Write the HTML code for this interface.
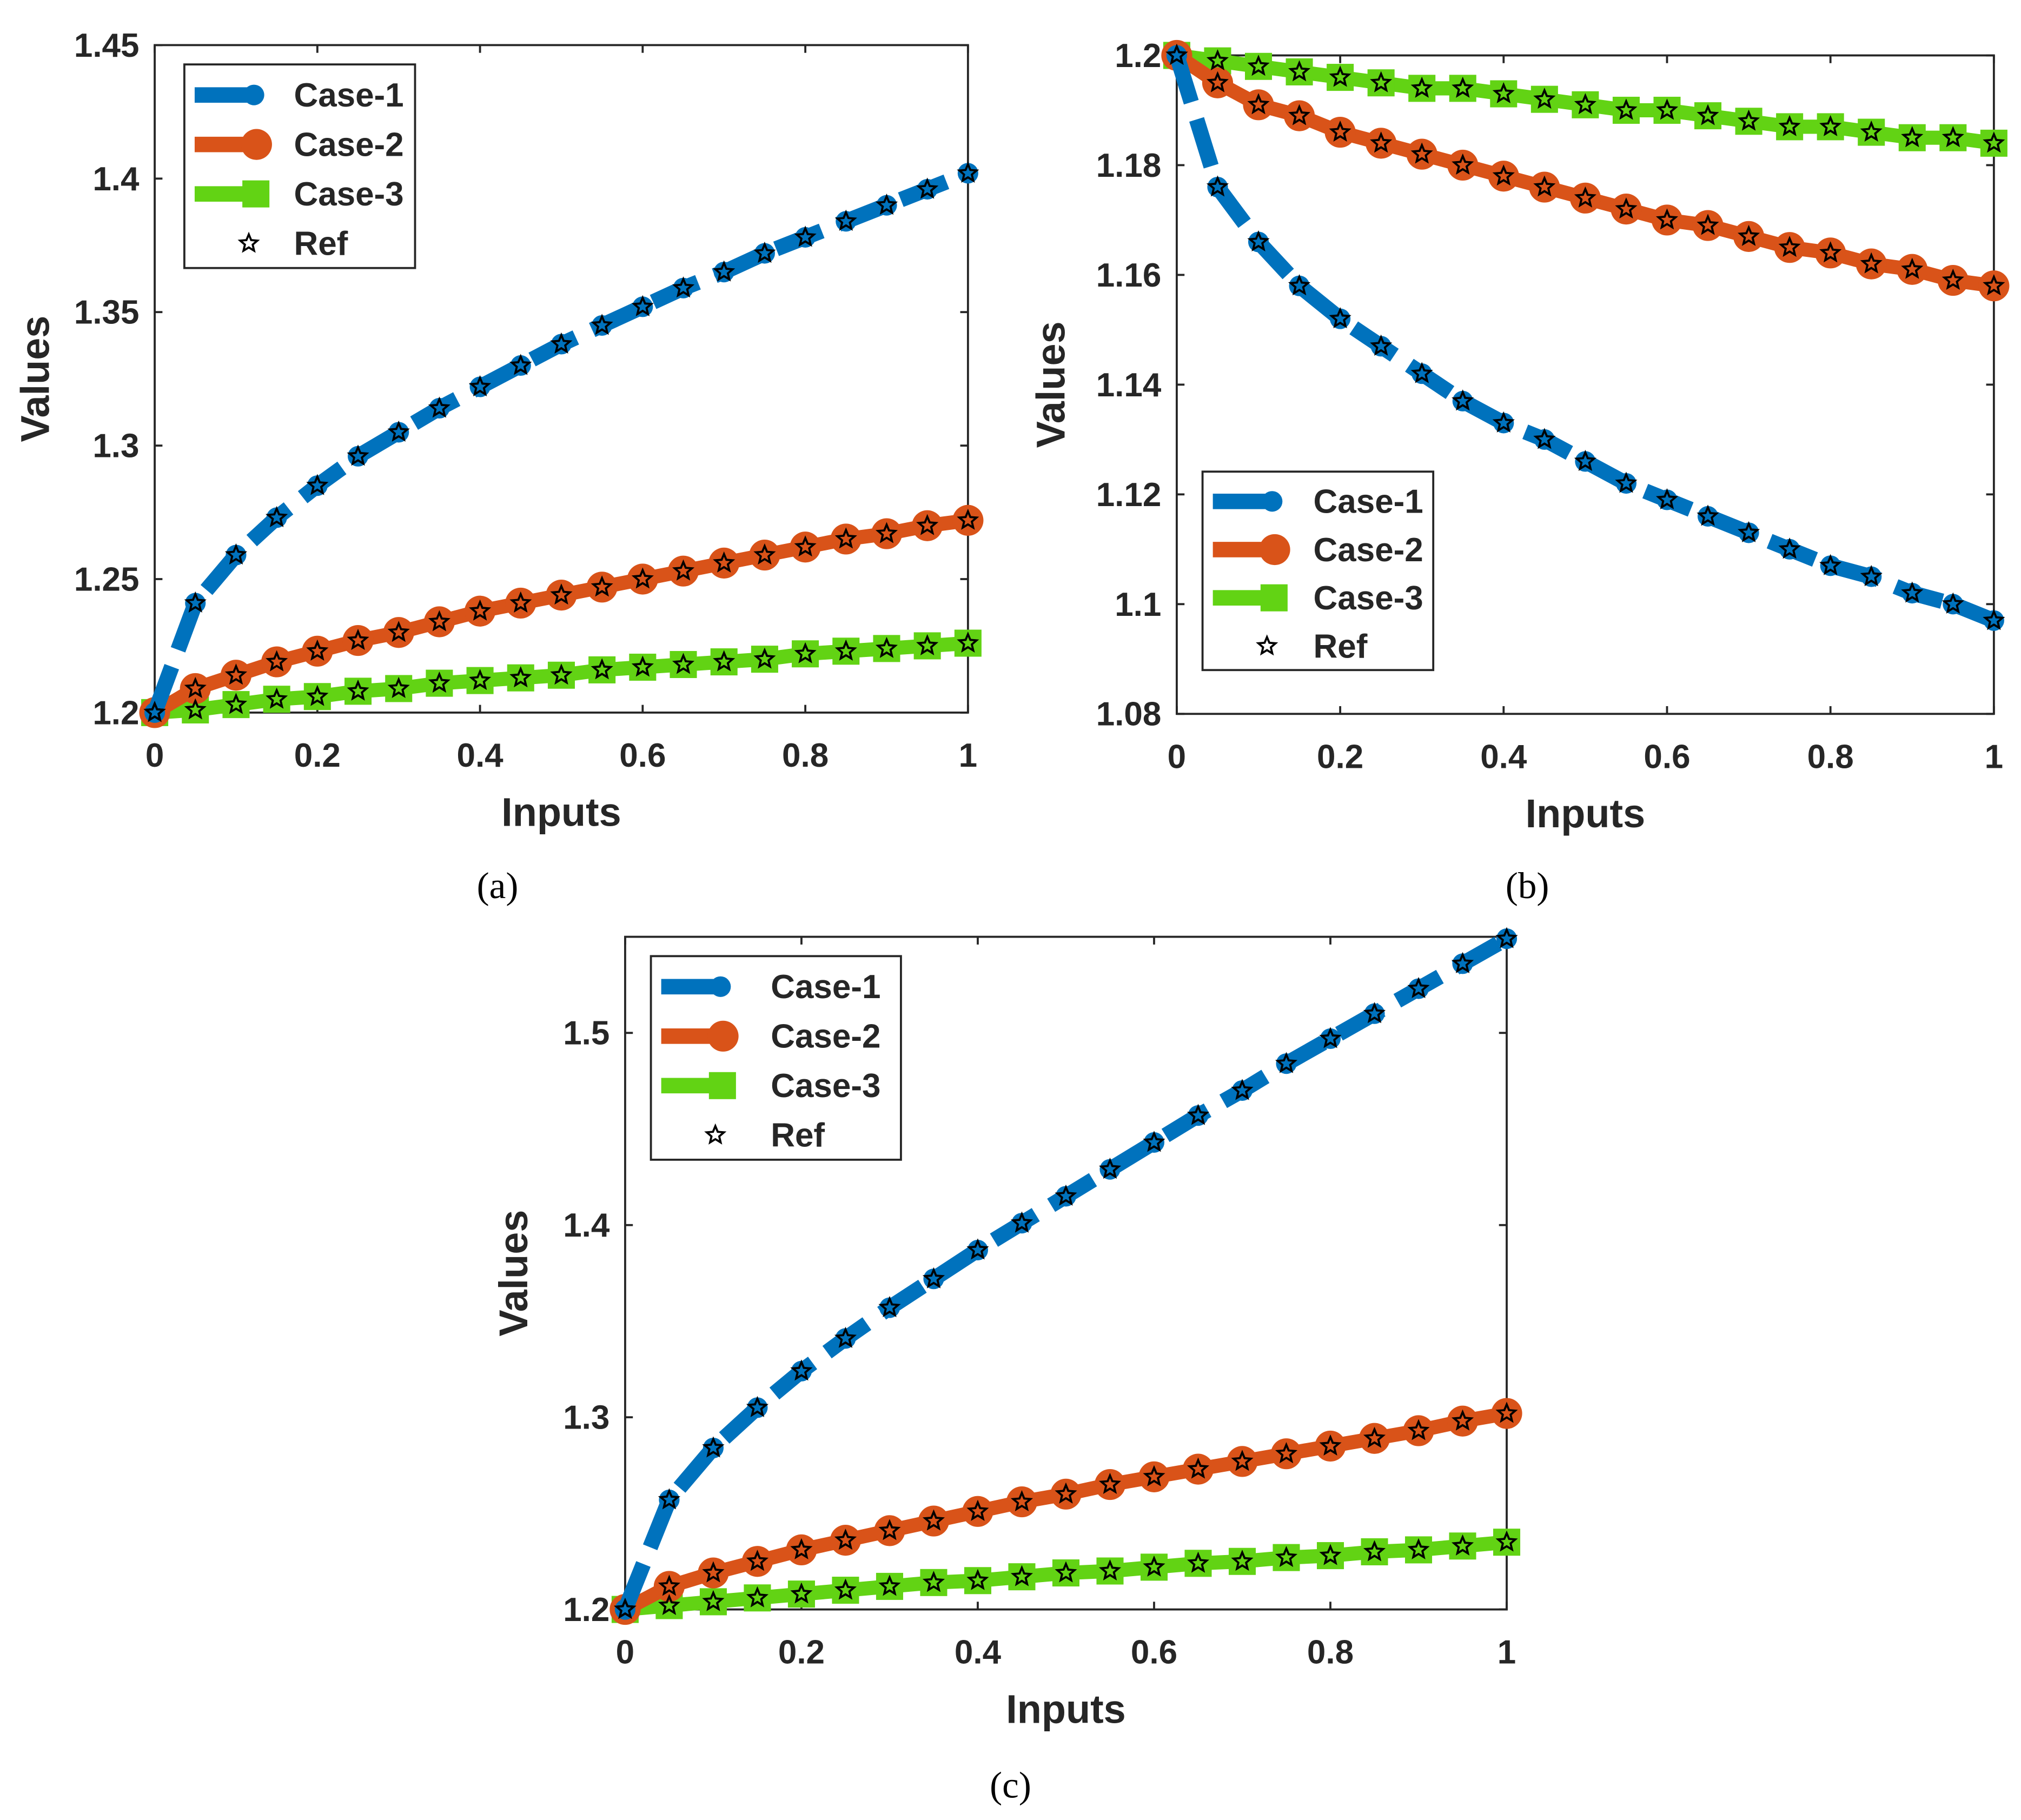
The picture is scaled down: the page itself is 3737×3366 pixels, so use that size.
<!DOCTYPE html>
<html><head><meta charset="utf-8"><style>
html,body{margin:0;padding:0;background:#fff}
svg{display:block}
text{font-family:"Liberation Sans",sans-serif;font-weight:bold;fill:#262626}
.cap{font-family:"Liberation Serif",serif;font-weight:normal;fill:#000}
</style></head><body>
<svg id="fig" xmlns="http://www.w3.org/2000/svg" width="3737" height="3366" viewBox="0 0 1568 1412.4">
<rect width="1568" height="1412.4" fill="#fff"/>
<text class="cap" x="386" y="697" font-size="29" text-anchor="middle">(a)</text>
<text class="cap" x="1185" y="697" font-size="29" text-anchor="middle">(b)</text>
<text class="cap" x="784" y="1395" font-size="29" text-anchor="middle">(c)</text>
</svg>
<script>
const xs = [0,0.05,0.1,0.15,0.2,0.25,0.3,0.35,0.4,0.45,0.5,0.55,0.6,0.65,0.7,0.75,0.8,0.85,0.9,0.95,1];
const a1 = [1.2,1.241,1.259,1.273,1.285,1.296,1.305,1.314,1.322,1.330,1.338,1.345,1.352,1.359,1.365,1.372,1.378,1.384,1.390,1.396,1.402];
const a2 = [1.2,1.209,1.214,1.219,1.223,1.227,1.230,1.234,1.238,1.241,1.244,1.247,1.250,1.253,1.256,1.259,1.262,1.265,1.267,1.270,1.272];
const a3 = [1.2,1.201,1.203,1.205,1.206,1.208,1.209,1.211,1.212,1.213,1.214,1.216,1.217,1.218,1.219,1.220,1.222,1.223,1.224,1.225,1.226];
const b1 = [1.2,1.176,1.166,1.158,1.152,1.147,1.142,1.137,1.133,1.130,1.126,1.122,1.119,1.116,1.113,1.110,1.107,1.105,1.102,1.100,1.097];
const b2 = [1.2,1.195,1.191,1.189,1.186,1.184,1.182,1.180,1.178,1.176,1.174,1.172,1.170,1.169,1.167,1.165,1.164,1.162,1.161,1.159,1.158];
const b3 = [1.2,1.199,1.198,1.197,1.196,1.195,1.194,1.194,1.193,1.192,1.191,1.190,1.190,1.189,1.188,1.187,1.187,1.186,1.185,1.185,1.184];
const c1 = [1.2,1.257,1.284,1.305,1.324,1.341,1.357,1.372,1.387,1.401,1.415,1.429,1.443,1.457,1.470,1.484,1.497,1.510,1.523,1.536,1.549];
const c2 = [1.2,1.212,1.219,1.225,1.231,1.236,1.241,1.246,1.251,1.256,1.260,1.265,1.269,1.273,1.277,1.281,1.285,1.289,1.293,1.298,1.302];
const c3 = [1.2,1.202,1.204,1.206,1.208,1.210,1.212,1.214,1.215,1.217,1.219,1.220,1.222,1.224,1.225,1.227,1.228,1.230,1.231,1.233,1.235];
const xTicks = [0,0.2,0.4,0.6,0.8,1];
const xTickLabels = ["0","0.2","0.4","0.6","0.8","1"];
const aYTicks = [1.2,1.25,1.3,1.35,1.4,1.45];
const aYLabels = ["1.2","1.25","1.3","1.35","1.4","1.45"];
const bYTicks = [1.08,1.1,1.12,1.14,1.16,1.18,1.2];
const bYLabels = ["1.08","1.1","1.12","1.14","1.16","1.18","1.2"];
const cYTicks = [1.2,1.3,1.4,1.5];
const cYLabels = ["1.2","1.3","1.4","1.5"];
const legendLabels = ["Case-1","Case-2","Case-3","Ref"];

const NS="http://www.w3.org/2000/svg";
const svg=document.getElementById('fig');
function mk(tag,attrs,parent){const e=document.createElementNS(NS,tag);for(const k in attrs)e.setAttribute(k,attrs[k]);(parent||svg).appendChild(e);return e;}
const COL=['#0072BD','#D95319','#62D314'];
function starPath(cx,cy,r){let d='';for(let i=0;i<10;i++){const rr=i%2?r*0.45:r;const a=-Math.PI/2+i*Math.PI/5;d+=(i?'L':'M')+(cx+rr*Math.cos(a)).toFixed(2)+','+(cy+rr*Math.sin(a)).toFixed(2);}return d+'Z';}

function panel(p){
  const g=mk('g',{});
  
  
  const X=v=>p.x0+(v-0)*(p.x1-p.x0);
  const Y=v=>p.yb-(v-p.ymin)/(p.ymax-p.ymin)*(p.yb-p.yt);
  const frame=mk('rect',{x:p.x0,y:p.yt,width:p.x1-p.x0,height:p.yb-p.yt,fill:'none',stroke:'#262626','stroke-width':1.6},g);
  
  
  xTicks.forEach((t,i)=>{
    mk('line',{x1:X(t),x2:X(t),y1:p.yb,y2:p.yb-6,stroke:'#262626','stroke-width':1.6},g);
    mk('line',{x1:X(t),x2:X(t),y1:p.yt,y2:p.yt+6,stroke:'#262626','stroke-width':1.6},g);
    const tx=mk('text',{x:X(t),y:p.yb+42,'font-size':26,'text-anchor':'middle'},g);
    tx.textContent=xTickLabels[i];
    
    
  });
  p.yt_.forEach((t,i)=>{
    mk('line',{x1:p.x0,x2:p.x0+6,y1:Y(t),y2:Y(t),stroke:'#262626','stroke-width':1.6},g);
    mk('line',{x1:p.x1,x2:p.x1-6,y1:Y(t),y2:Y(t),stroke:'#262626','stroke-width':1.6},g);
    const tx=mk('text',{x:p.x0-12,y:Y(t)+9,'font-size':26,'text-anchor':'end'},g);
    tx.textContent=p.yl[i];
    
    
  });
  const xl=mk('text',{x:(p.x0+p.x1)/2,y:p.yb+88,'font-size':31,'text-anchor':'middle'},g);
  xl.textContent='Inputs';
  
  
  const yx=p.x0-p.ylOff, yy=(p.yt+p.yb)/2;
  const yl=mk('text',{x:yx,y:yy,'font-size':31,'text-anchor':'middle',transform:`rotate(-90 ${yx} ${yy})`},g);
  yl.textContent='Values';
  
  
  const pts=s=>s.map((v,i)=>X(xs[i]).toFixed(2)+','+Y(v).toFixed(2)).join(' ');
  const l3=mk('polyline',{points:pts(p.s[2]),fill:'none',stroke:COL[2],'stroke-width':11},g);
  
  
  p.s[2].forEach((v,i)=>{const m=mk('rect',{x:X(xs[i])-10.5,y:Y(v)-10.5,width:21,height:21,fill:COL[2]},g);
    
    });
  const l2=mk('polyline',{points:pts(p.s[1]),fill:'none',stroke:COL[1],'stroke-width':11},g);
  
  
  p.s[1].forEach((v,i)=>{const m=mk('circle',{cx:X(xs[i]),cy:Y(v),r:12,fill:COL[1]},g);
    
    });
  const l1=mk('polyline',{points:pts(p.s[0]),fill:'none',stroke:COL[0],'stroke-width':12,'stroke-dasharray':'38 14'},g);
  
  
  p.s[0].forEach((v,i)=>{const m=mk('circle',{cx:X(xs[i]),cy:Y(v),r:8,fill:COL[0]},g);
    
    });
  p.s.forEach(s=>s.forEach((v,i)=>{const m=mk('path',{d:starPath(X(xs[i]),Y(v),7),fill:'none',stroke:'#000','stroke-width':1.6},g);
    
    }));
  const L=p.leg;
  const lg=mk('g',{},g);
  
  
  mk('rect',{x:L.x,y:L.y,width:L.w,height:L.h,fill:'#fff',stroke:'#262626','stroke-width':1.6},lg);
  legendLabels.forEach((lab,i)=>{
    const cy=L.y+L.h*(0.15+0.243*i);
    const sx=L.x+8;
    const e=mk('g',{},lg);
    
    
    if(i<3) mk('line',{x1:sx,x2:sx+48,y1:cy,y2:cy,stroke:COL[i],'stroke-width':12},e);
    if(i===0) mk('circle',{cx:sx+46,cy:cy,r:8,fill:COL[0]},e);
    if(i===1) mk('circle',{cx:sx+48,cy:cy,r:12,fill:COL[1]},e);
    if(i===2) mk('rect',{x:sx+37,y:cy-10.5,width:21,height:21,fill:COL[2]},e);
    if(i===3) mk('path',{d:starPath(sx+42,cy,7),fill:'none',stroke:'#000','stroke-width':1.6},e);
    const t=mk('text',{x:L.tx,y:cy+9,'font-size':26},e);
    t.textContent=lab;
  });
}
panel({id:'a',x0:120,x1:751,yt:35,yb:553,ymin:1.2,ymax:1.45,yt_:aYTicks,yl:aYLabels,s:[a1,a2,a3],ylOff:82,
  leg:{x:143,y:50,w:179,h:158,tx:228}});
panel({id:'b',x0:913,x1:1547,yt:43,yb:554,ymin:1.08,ymax:1.2,yt_:bYTicks,yl:bYLabels,s:[b1,b2,b3],ylOff:87,
  leg:{x:933,y:366,w:179,h:154,tx:1019}});
panel({id:'c',x0:485,x1:1169,yt:727,yb:1249,ymin:1.2,ymax:1.55,yt_:cYTicks,yl:cYLabels,s:[c1,c2,c3],ylOff:76,
  leg:{x:505,y:742,w:194,h:158,tx:598}});
</script>
</body></html>
